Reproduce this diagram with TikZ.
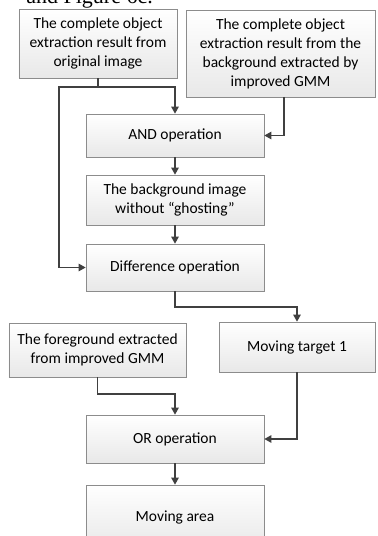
\documentclass[tikz,border=0pt]{standalone}
\usepackage{fontspec}
\setmainfont{Carlito}
\newfontfamily\serifcut{Liberation Serif}
\usetikzlibrary{arrows.meta,shadows}
\begin{document}
\begin{tikzpicture}[x=1bp,y=-1bp,
  box/.style={draw=black!45, line width=0.7bp, top color=white, bottom color=black!9,
    align=center, inner sep=0pt, font=\fontsize{15.5bp}{19bp}\selectfont,
    drop shadow={shadow xshift=1.3bp, shadow yshift=-1.3bp, fill=black!40, opacity=0.5}},
  arr/.style={draw=black!75, line width=1.2bp, -{Triangle[length=7bp,width=7.5bp]}},
  ln/.style={draw=black!75, line width=1.2bp}]
\useasboundingbox (0,0) rectangle (377,536);
\clip (0,0) rectangle (377,536);
\fill[white] (0,0) rectangle (377,536);
% cut-off surrounding text
\node[anchor=base east, inner sep=0pt, font=\serifcut\fontsize{22bp}{26bp}\selectfont] (cut) at (153,3.5) {and Figure 6c.};
% boxes
\node[box, minimum width=158bp, minimum height=69bp] (A) at (98,43.5) {The complete object\\extraction result from\\original image};
\node[box, minimum width=189bp, minimum height=87bp] (B) at (280.5,53.5) {The complete object\\extraction result from the\\background extracted by\\improved GMM};
\node[box, minimum width=178bp, minimum height=43bp] (AND) at (175,135.5) {AND operation};
\node[box, minimum width=178bp, minimum height=50bp] (BG) at (175,200) {The background image\\without \textquotedblleft ghosting\textquotedblright};
\node[box, minimum width=178bp, minimum height=47bp] (DIFF) at (175,267.5) {Difference operation};
\node[box, minimum width=177bp, minimum height=54bp] (FG) at (97.5,350) {The foreground extracted\\from improved GMM};
\node[box, minimum width=156bp, minimum height=50bp] (MT) at (297,347) {Moving target 1};
\node[box, minimum width=178bp, minimum height=48bp] (OR) at (175,439) {OR operation};
\node[box, minimum width=178bp, minimum height=64bp] (MA) at (175,517) {Moving area};
% junction coordinates
\coordinate (j1) at (98,87);
\coordinate (jl) at (59,87);
\coordinate (bx) at (284,97);
\coordinate (j2) at (175,307);
\coordinate (j3) at (97.5,394);
% connectors
\draw[ln] (A.south) -- (j1);
\draw[arr] (j1) -| (AND.north);
\draw[arr] (j1) -- (jl) |- (DIFF.west);
\draw[arr] (bx) |- (AND.east);
\draw[arr] (AND.south) -- (BG.north);
\draw[arr] (BG.south) -- (DIFF.north);
\draw[arr] (DIFF.south) -- (j2) -| (MT.north);
\draw[arr] (FG.south) -- (j3) -| (OR.north);
\draw[arr] (MT.south) |- (OR.east);
\draw[arr] (OR.south) -- (MA.north);
\end{tikzpicture}
\end{document}
